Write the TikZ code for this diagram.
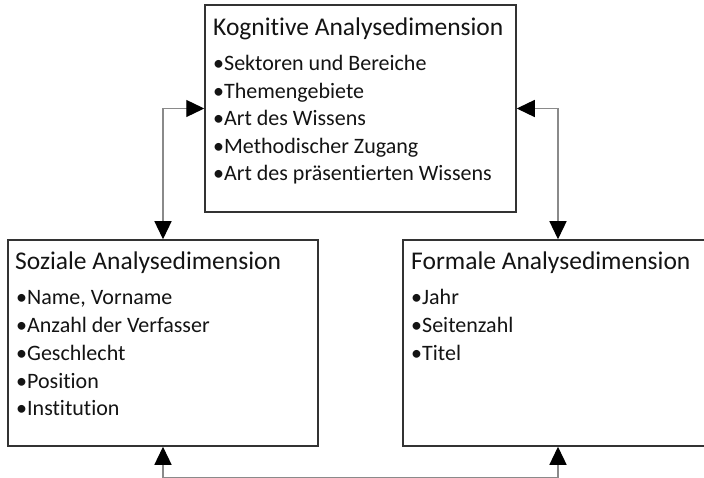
\documentclass[tikz,border=0pt]{standalone}
\usepackage{fontspec}
\setmainfont[Ligatures={NoCommon}]{Carlito}
\usetikzlibrary{arrows.meta,calc}
\definecolor{boxc}{HTML}{333333}
\definecolor{connc}{HTML}{8A8A8A}
\definecolor{txt}{HTML}{141414}
\begin{document}
\begin{tikzpicture}[x=1pt,y=-1pt,
  box/.style={draw=boxc, line width=1.5pt, minimum width=310pt, minimum height=206pt, inner sep=0pt},
  title/.style={anchor=base west, inner sep=0pt, font=\fontsize{25.5}{30}\selectfont, text=txt},
  item/.style={anchor=base west, inner sep=0pt, font=\fontsize{22}{26}\selectfont, text=txt},
  conn/.style={draw=connc, line width=1.3pt, {Triangle[length=18pt,width=17pt,color=black]}-{Triangle[length=18pt,width=17pt,color=black]}}]
\clip (0,0) rectangle (704,478);
\fill[white] (0,0) rectangle (704,478);
% boxes
\node[box, minimum width=311pt, minimum height=207pt] (k) at (360.5,108.5) {};
\node[box] (s) at (163,343) {};
\node[box] (f) at (558,343) {};
% texts
\node[title] (kt) at (213,36) {Kognitive Analysedimension};
\foreach \t [count=\i] in {Sektoren und Bereiche, Themengebiete, Art des Wissens, Methodischer Zugang, Art des präsentierten Wissens}
  \node[item] (ki\i) at (213,{71+27.5*(\i-1)}) {•\t};
\node[title] (st) at (15,270) {Soziale Analysedimension};
\foreach \t [count=\i] in {{Name, Vorname}, Anzahl der Verfasser, Geschlecht, Position, Institution}
  \node[item] (si\i) at (16,{305+27.7*(\i-1)}) {•\t};
\node[title] (ft) at (411,270) {Formale Analysedimension};
\foreach \t [count=\i] in {Jahr, Seitenzahl, Titel}
  \node[item] (fi\i) at (411,{305+27.7*(\i-1)}) {•\t};
% connectors
\draw[conn] (k.west) -| (s.north);
\draw[conn] (k.east) -| (f.north);
\coordinate (b) at ($(s.south)+(0,31)$);
\draw[conn] (s.south) -- (b) -| (f.south);
\end{tikzpicture}
\end{document}
